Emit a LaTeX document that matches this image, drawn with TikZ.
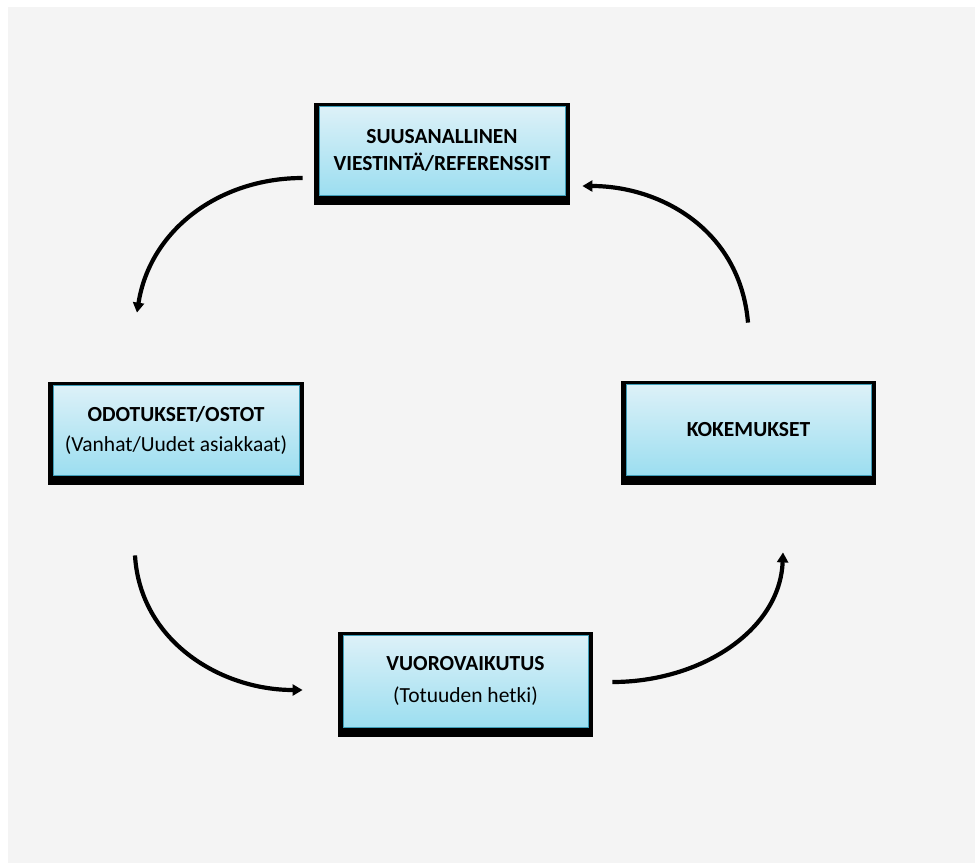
\documentclass[tikz,border=0pt]{standalone}
\usepackage{fontspec}
\setmainfont{Carlito}
\usetikzlibrary{arrows.meta,backgrounds}
\definecolor{bggray}{HTML}{F4F4F4}
\definecolor{boxtop}{HTML}{DDF1F8}
\definecolor{boxbot}{HTML}{9CDEF0}
\definecolor{boxline}{HTML}{3E9DB8}
\tikzset{
  cyclebox/.style={rectangle, draw=boxline, line width=0.8pt, top color=boxtop, bottom color=boxbot,
    align=center, inner sep=0pt, text=black},
  flow/.style={line width=4.2pt, -{Triangle[length=10pt,width=11pt]}, line cap=butt},
  boldlbl/.style={font=\fontsize{21.5}{27}\selectfont\bfseries},
}
\newcommand{\sublbl}[1]{{\fontsize{21.5}{27}\selectfont\mdseries #1}}
\begin{document}
\begin{tikzpicture}[x=1pt,y=-1pt]
\useasboundingbox (0,0) rectangle (975,863);
% nodes
\node[cyclebox, minimum width=246pt, minimum height=89pt, boldlbl] (top) at (442,150.5)
  {SUUSANALLINEN\\VIESTINTÄ/REFERENSSIT};
\node[cyclebox, minimum width=246pt, minimum height=90pt, boldlbl] (left) at (176,430)
  {ODOTUKSET/OSTOT\\[3pt]\sublbl{(Vanhat/Uudet asiakkaat)}};
\node[cyclebox, minimum width=245pt, minimum height=91pt, boldlbl] (right) at (748.5,429.5)
  {KOKEMUKSET};
\node[cyclebox, minimum width=245pt, minimum height=92pt, boldlbl] (bottom) at (465.5,681)
  {VUOROVAIKUTUS\\[5pt]\sublbl{(Totuuden hetki)}};
\begin{scope}[on background layer]
  \fill[bggray] (8,7) rectangle (975,863);
  \foreach \n in {top,left,right,bottom}{
    \fill[black] ([shift={(-5,-3)}]\n.north west) rectangle ([shift={(5,10)}]\n.south east);
  }
\end{scope}
% connector end points
\coordinate (a1s) at ([shift={(-16,27.5)}]top.west);
\coordinate (a1e) at ([shift={(-39,-72)}]left.north);
\coordinate (a2s) at ([shift={(-0.5,-61)}]right.north);
\coordinate (a2e) at ([shift={(17,35.5)}]top.east);
\coordinate (a3s) at ([shift={(-41,80)}]left.south);
\coordinate (a3e) at ([shift={(-40,9)}]bottom.west);
\coordinate (a4s) at ([shift={(24,1)}]bottom.east);
\coordinate (a4e) at ([shift={(34.5,77)}]right.south);
\draw[flow] (a1s) .. controls +(-83,0) and +(13,-83) .. (a1e);
\draw[flow] (a2s) .. controls +(-8,-93) and +(78,0) .. (a2e);
\draw[flow] (a3s) .. controls +(5,85) and +(-83,0) .. (a3e);
\draw[flow] (a4s) .. controls +(88,0) and +(-3,78) .. (a4e);
\end{tikzpicture}
\end{document}
